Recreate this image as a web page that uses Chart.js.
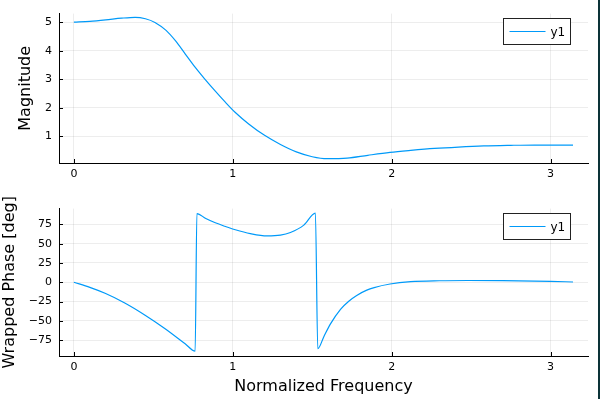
<!DOCTYPE html>
<html>
<head>
<meta charset="utf-8">
<script src="https://cdn.jsdelivr.net/npm/chart.js@4/dist/chart.umd.min.js"></script>
<style>
    html, body { margin: 0; padding: 0; background: #fff; }
    #wrap { position: relative; width: 600px; height: 399px; overflow: hidden; background: #fff; }
    #wrap canvas { position: absolute; left: 0; }
    #magChart { top: 0; }
    #phaseChart { top: 195px; }
    #edge { position: absolute; left: 598px; top: 0; width: 2px; height: 399px; background: #0c3338; }
</style>
</head>
<body>
<div id="wrap">
    <canvas id="magChart" width="600" height="195"></canvas>
    <canvas id="phaseChart" width="600" height="204"></canvas>
    <div id="edge"></div>
</div>
<script>
// Values
const magFreq = [0, 0.10, 0.20, 0.30, 0.385, 0.45, 0.51, 0.58, 0.64, 0.70, 0.76, 0.82, 0.89, 0.95, 1.016,
    1.10, 1.20, 1.30, 1.40, 1.50, 1.594, 1.72, 1.85, 1.99, 2.12, 2.27, 2.42, 2.58, 2.75, 2.90, 3.1416];
const magnitude = [5.00, 5.03, 5.08, 5.14, 5.17, 5.12, 4.99, 4.71, 4.34, 3.89, 3.44, 3.03, 2.58, 2.21, 1.83,
    1.43, 1.03, 0.71, 0.45, 0.28, 0.21, 0.23, 0.33, 0.43, 0.50, 0.57, 0.62, 0.66, 0.68, 0.69, 0.69];

const phaseFreq = [0, 0.10, 0.196, 0.32, 0.448, 0.574, 0.70, 0.763, 0.774, 0.83, 0.89, 0.95, 1.016, 1.11,
    1.216, 1.30, 1.363, 1.447, 1.52, 1.535, 1.573, 1.615, 1.678, 1.73, 1.78, 1.84, 1.89, 1.99, 2.12, 2.30,
    2.48, 2.70, 3.00, 3.1416];
const phase = [0, -6.5, -14.2, -26.7, -42.5, -60, -79.5, -89.2, 89.0, 82.5, 77, 72.5, 68, 63,
    60, 61, 64.5, 74, 89.6, -86, -70.4, -53.8, -35, -24.5, -17, -10.5, -6.8, -2.2, 0.8, 2.0,
    2.3, 2.1, 1.2, 0.4];

const freqTicks = [0, 1, 2, 3];
const magTicks = [1, 2, 3, 4, 5];
const phaseTicks = [-75, -50, -25, 0, 25, 50, 75];
const seriesLabel = 'y1';

const colors = {
    line: '#009af9',
    text: '#000000',
    axis: '#000000',
    grid: 'rgba(0, 0, 0, 0.07)',
    legendBorder: '#222222'
};

const fontFamily = "'DejaVu Sans', sans-serif";

function toPoints(xs, ys) {
    return xs.map((x, i) => ({ x: x, y: ys[i] }));
}

function formatTick(value) {
    return String(value).replace('-', '\u2212');
}

// Julia-style inward tick marks
const innerTicks = {
    id: 'innerTicks',
    afterDraw(chart) {
        const { ctx, chartArea, scales } = chart;
        ctx.save();
        ctx.strokeStyle = colors.axis;
        ctx.lineWidth = 1;
        ctx.beginPath();
        scales.x.ticks.forEach(t => {
            const px = Math.round(scales.x.getPixelForValue(t.value)) + 0.5;
            ctx.moveTo(px, chartArea.bottom);
            ctx.lineTo(px, chartArea.bottom - 4);
        });
        scales.y.ticks.forEach(t => {
            const py = Math.round(scales.y.getPixelForValue(t.value)) + 0.5;
            ctx.moveTo(chartArea.left, py);
            ctx.lineTo(chartArea.left + 4, py);
        });
        ctx.stroke();
        ctx.restore();
    }
};

// Legend box in the top right corner of the plot
const cornerLegend = {
    id: 'cornerLegend',
    afterDraw(chart) {
        const { ctx, chartArea } = chart;
        const w = 67, h = 26;
        const x = Math.round(chartArea.right - 18 - w) + 0.5;
        const y = Math.round(chartArea.top + 4) + 0.5;
        ctx.save();
        ctx.fillStyle = '#ffffff';
        ctx.fillRect(x, y, w, h);
        ctx.strokeStyle = colors.legendBorder;
        ctx.lineWidth = 1;
        ctx.strokeRect(x, y, w, h);
        ctx.strokeStyle = colors.line;
        ctx.lineWidth = 1.2;
        ctx.beginPath();
        ctx.moveTo(x + 6, y + h / 2);
        ctx.lineTo(x + 42, y + h / 2);
        ctx.stroke();
        ctx.fillStyle = colors.text;
        ctx.font = '12px ' + fontFamily;
        ctx.textBaseline = 'middle';
        ctx.fillText(chart.data.datasets[0].label, x + 47, y + h / 2 + 1);
        ctx.restore();
    }
};

function baseOptions(cfg) {
    return {
        responsive: false,
        animation: false,
        layout: { padding: { left: 0, right: 12, top: cfg.padTop, bottom: 0 } },
        plugins: { legend: { display: false }, tooltip: { enabled: false } },
        scales: {
            x: {
                type: 'linear',
                min: -0.094,
                max: 3.236,
                afterBuildTicks: s => { s.ticks = freqTicks.map(v => ({ value: v })); },
                afterFit: s => { s.height = cfg.xHeight; },
                grid: { color: colors.grid, drawTicks: false },
                border: { color: colors.axis, width: 1 },
                ticks: {
                    color: colors.text,
                    padding: 5,
                    font: { family: fontFamily, size: 11 },
                    callback: formatTick
                },
                title: {
                    display: !!cfg.xTitle,
                    text: cfg.xTitle || '',
                    color: colors.text,
                    font: { family: fontFamily, size: 16 },
                    padding: { top: 0, bottom: 3 }
                }
            },
            y: {
                min: cfg.yMin,
                max: cfg.yMax,
                afterBuildTicks: s => { s.ticks = cfg.yTicks.map(v => ({ value: v })); },
                afterFit: s => { s.width = 59; },
                grid: { color: colors.grid, drawTicks: false },
                border: { color: colors.axis, width: 1 },
                ticks: {
                    color: colors.text,
                    padding: 7,
                    font: { family: fontFamily, size: 11 },
                    callback: formatTick
                },
                title: {
                    display: true,
                    text: cfg.yTitle,
                    color: colors.text,
                    font: { family: fontFamily, size: 16 },
                    padding: { top: cfg.yTitlePad, bottom: 0 }
                }
            }
        }
    };
}

function lineDataset(points) {
    return {
        label: seriesLabel,
        data: points,
        borderColor: colors.line,
        backgroundColor: colors.line,
        borderWidth: 1.2,
        pointRadius: 0,
        cubicInterpolationMode: 'monotone',
        fill: false
    };
}

function initMagnitudeChart() {
    const ctx = document.getElementById('magChart');
    new Chart(ctx, {
        type: 'line',
        data: { datasets: [lineDataset(toPoints(magFreq, magnitude))] },
        options: baseOptions({
            padTop: 12, xHeight: 32, yMin: 0.06, yMax: 5.3,
            yTicks: magTicks, yTitle: 'Magnitude', yTitlePad: 16
        }),
        plugins: [innerTicks, cornerLegend]
    });
}

function initPhaseChart() {
    const ctx = document.getElementById('phaseChart');
    new Chart(ctx, {
        type: 'line',
        data: { datasets: [lineDataset(toPoints(phaseFreq, phase))] },
        options: baseOptions({
            padTop: 8, xHeight: 43, yMin: -95.4, yMax: 95.4,
            yTicks: phaseTicks, yTitle: 'Wrapped Phase [deg]', yTitlePad: 0,
            xTitle: 'Normalized Frequency'
        }),
        plugins: [innerTicks, cornerLegend]
    });
}

document.addEventListener('DOMContentLoaded', function() {
    initMagnitudeChart();
    initPhaseChart();
});
</script>
</body>
</html>
